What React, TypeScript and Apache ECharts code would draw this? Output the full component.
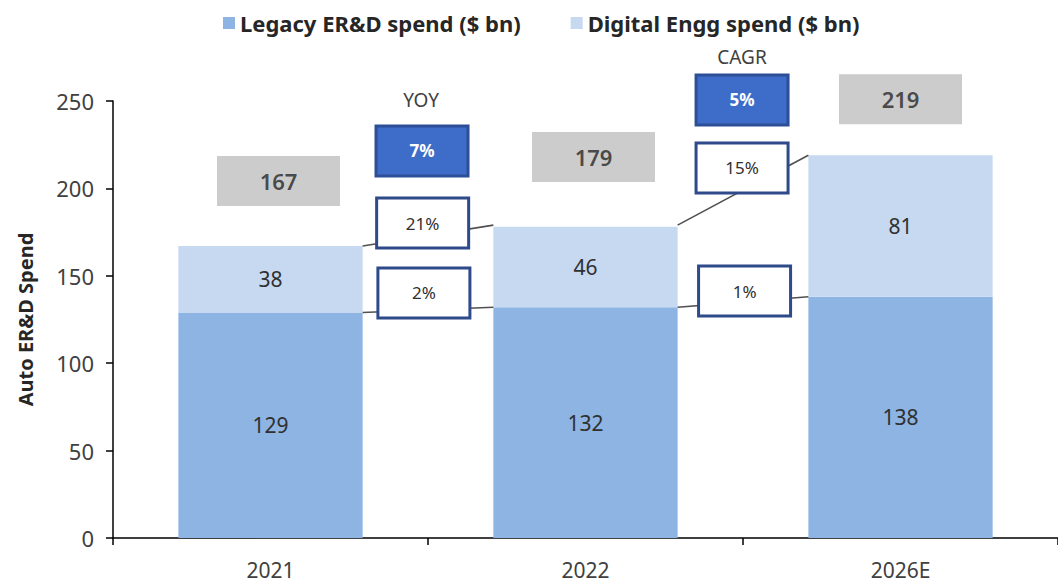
import React, { useEffect, useRef } from "react";
import * as echarts from "echarts";

const categories = ["2021", "2022", "2026E"];
const legacySpend = [129, 132, 138];
const digitalSpend = [38, 46, 81];
const totalSpend = [167, 179, 219];
const yoyLabels = ["7%", "21%", "2%"]; // total, digital, legacy (2021 -> 2022)
const cagrLabels = ["5%", "15%", "1%"]; // total, digital, legacy (2022 -> 2026E)
const yTicks = [0, 50, 100, 150, 200, 250];

const FONT = "'Noto Sans', 'Open Sans', sans-serif";
const TXT = "#404040";
const BAR_FRAC = 0.585;

// layout anchors of the annotation boxes, in (x: category-span units, y: axis value)
const YOY_POS = [[0.981, 221.4], [0.983, 180.2], [0.987, 140.2]];
const CAGR_POS = [[1.997, 250.6], [1.997, 211.7], [2.005, 141.3]];
const YOY_TITLE_POS = [0.978, 250.6];
const CAGR_TITLE_POS = [1.997, 275.2];
const TOTAL_OFFSETS = [[8, -65], [8, -68], [0, -56]];

export default function App() {
  const ref = useRef<HTMLDivElement>(null);
  useEffect(() => {
    if (!ref.current) return;
    const chart = echarts.init(ref.current, null, { renderer: "svg" });
    const hw = BAR_FRAC / 2;

    const connectors: any[] = [];
    for (let i = 0; i < categories.length - 1; i++) {
      connectors.push({ coords: [[i + 0.5 + hw, totalSpend[i]], [i + 1.5 - hw, totalSpend[i + 1]]] });
      connectors.push({ coords: [[i + 0.5 + hw, legacySpend[i]], [i + 1.5 - hw, legacySpend[i + 1]]] });
    }

    chart.setOption({
      animation: false,
      textStyle: { fontFamily: FONT },
      legend: {
        data: ["Legacy ER&D spend ($ bn)", "Digital Engg spend ($ bn)"],
        left: 218,
        top: 7,
        icon: "rect",
        itemWidth: 12,
        itemHeight: 12,
        itemGap: 50,
        textStyle: { fontFamily: FONT, fontSize: 22, color: "#262626", fontWeight: "bold" },
      },
      grid: { left: 113, right: -3, top: 101, bottom: 49, containLabel: false },
      xAxis: [
        {
          type: "category",
          data: categories,
          axisLine: { lineStyle: { color: "#000", width: 1.5 } },
          axisTick: { show: true, length: 7, lineStyle: { color: "#000", width: 1.5 } },
          axisLabel: { fontFamily: FONT, fontSize: 21, color: TXT, margin: 21 },
        },
        { type: "value", min: 0, max: 3, show: false },
      ],
      yAxis: {
        type: "value",
        min: 0,
        max: 250,
        interval: 50,
        name: "Auto ER&D Spend",
        nameLocation: "middle",
        nameGap: 78,
        nameTextStyle: { fontFamily: FONT, fontSize: 20, fontWeight: "bold", color: "#262626" },
        axisLine: { show: true, lineStyle: { color: "#000", width: 1.5 } },
        axisTick: { show: true, length: 7, lineStyle: { color: "#000", width: 1.5 } },
        splitLine: { show: false },
        axisLabel: {
          fontFamily: FONT,
          fontSize: 22,
          color: TXT,
          margin: 19,
          formatter: (v: number) => (yTicks.includes(v) ? String(v) : ""),
        },
      },
      series: [
        {
          name: "Legacy ER&D spend ($ bn)",
          type: "bar",
          stack: "s",
          data: legacySpend,
          barWidth: BAR_FRAC * 100 + "%",
          itemStyle: { color: "#8DB4E2" },
          label: { show: true, position: "inside", fontFamily: FONT, fontSize: 21, color: "#303030" },
          z: 2,
        },
        {
          name: "Digital Engg spend ($ bn)",
          type: "bar",
          stack: "s",
          data: digitalSpend,
          barWidth: BAR_FRAC * 100 + "%",
          itemStyle: { color: "#C6D9F1" },
          label: { show: true, position: "inside", fontFamily: FONT, fontSize: 21, color: "#303030" },
          z: 2,
        },
        {
          type: "lines",
          coordinateSystem: "cartesian2d",
          xAxisIndex: 1,
          yAxisIndex: 0,
          data: connectors,
          lineStyle: { color: "#505050", width: 1.6, opacity: 1 },
          silent: true,
          z: 3,
        },
        {
          type: "scatter",
          xAxisIndex: 0,
          data: totalSpend.map((v, i) => ({ value: v, label: { offset: TOTAL_OFFSETS[i] } })),
          symbolSize: 0,
          clip: false,
          silent: true,
          label: {
            show: true,
            position: "inside",
            formatter: (p: any) => String(p.value),
            fontFamily: FONT,
            fontSize: 22,
            fontWeight: 600,
            color: "#262626",
            backgroundColor: "#BFBFBF",
            width: 123,
            height: 50,
            lineHeight: 50,
            align: "center",
            verticalAlign: "middle",
          },
          z: 5,
        },
      ],
    });

    const px = (u: number, v: number) => [
      chart.convertToPixel({ xAxisIndex: 1 } as any, u) as unknown as number,
      chart.convertToPixel({ yAxisIndex: 0 } as any, v) as unknown as number,
    ];

    const BW = 92;
    const BH = 50;
    const mkBox = (label: string, pos: number[], dark: boolean) => {
      const [cx, cy] = px(pos[0], pos[1]);
      return {
        type: "group",
        children: [
          {
            type: "rect",
            shape: { x: cx - BW / 2, y: cy - BH / 2, width: BW, height: BH },
            style: {
              fill: dark ? "#3D6CC9" : "#ffffff",
              stroke: dark ? "#2D4F98" : "#2E4A8A",
              lineWidth: 3,
            },
            z: 100,
          },
          {
            type: "text",
            x: cx,
            y: cy,
            style: {
              text: label,
              align: "center",
              verticalAlign: "middle",
              fill: dark ? "#ffffff" : "#303030",
              fontFamily: FONT,
              fontSize: 17,
              fontWeight: dark ? "bold" : "normal",
            },
            z: 101,
          },
        ],
      };
    };
    const mkTitle = (label: string, pos: number[]) => {
      const [cx, cy] = px(pos[0], pos[1]);
      return {
        type: "text",
        x: cx,
        y: cy,
        style: {
          text: label,
          align: "center",
          verticalAlign: "middle",
          fill: "#404040",
          fontFamily: FONT,
          fontSize: 19,
        },
        z: 101,
      };
    };

    const elements: any[] = [];
    yoyLabels.forEach((l, k) => elements.push(mkBox(l, YOY_POS[k], k === 0)));
    cagrLabels.forEach((l, k) => elements.push(mkBox(l, CAGR_POS[k], k === 0)));
    elements.push(mkTitle("YOY", YOY_TITLE_POS));
    elements.push(mkTitle("CAGR", CAGR_TITLE_POS));
    chart.setOption({ graphic: { elements } });

    return () => chart.dispose();
  }, []);
  return (
    <div
      ref={ref}
      style={{ position: "fixed", left: 0, top: 0, width: 1058, height: 587, background: "#fff" }}
    />
  );
}
